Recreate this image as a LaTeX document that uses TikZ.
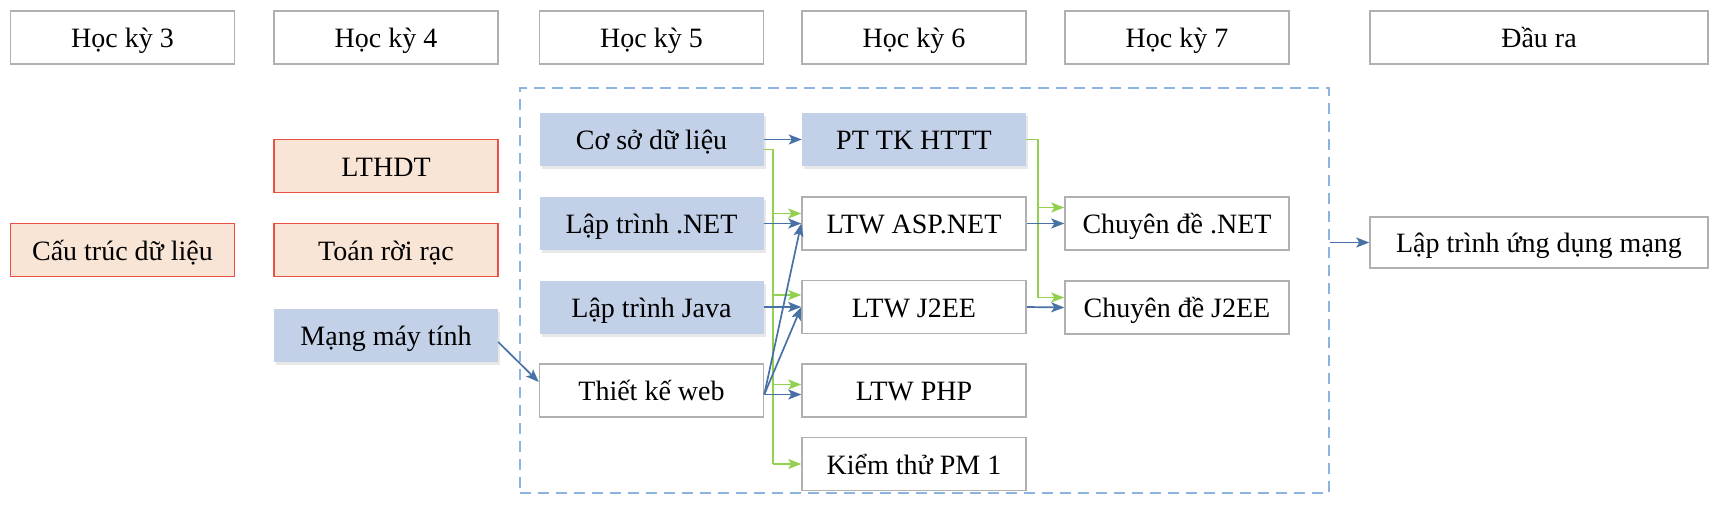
\documentclass[tikz,border=0pt]{standalone}
\usepackage{fontspec}
\setmainfont{Liberation Serif}
\usetikzlibrary{arrows.meta,shadows,calc}
\definecolor{lnblue}{RGB}{72,114,165}
\definecolor{lngreen}{RGB}{146,208,80}
\definecolor{fillblue}{RGB}{194,208,232}
\definecolor{fillpeach}{RGB}{248,229,214}
\definecolor{redline}{RGB}{234,80,70}
\definecolor{grayline}{RGB}{176,176,176}
\definecolor{dashblue}{RGB}{141,179,226}
\tikzset{
  base/.style={rectangle,inner sep=0pt,minimum width=224pt,minimum height=53pt,
    text height=26pt,text depth=6pt,
    font=\fontsize{28}{32}\selectfont,text=black},
  whitebox/.style={base,draw=grayline,line width=1.5pt,fill=white},
  peachbox/.style={base,draw=redline,line width=1.8pt,fill=fillpeach},
  bluebox/.style={base,fill=fillblue,
    drop shadow={shadow xshift=2pt,shadow yshift=-3pt,opacity=0.18,fill=black!50}},
  bluearrow/.style={draw=lnblue,line width=1.7pt,-{Stealth[length=13pt,width=10pt,inset=3pt]}},
  greenarrow/.style={draw=lngreen,line width=1.7pt,-{Stealth[length=13pt,width=10pt,inset=3pt]}},
  greenline/.style={draw=lngreen,line width=1.7pt},
  dashbox/.style={rectangle,draw=dashblue,line width=1.5pt,dash pattern=on 11pt off 7pt,
    minimum width=809pt,minimum height=405pt,inner sep=0pt}
}
\begin{document}
\begin{tikzpicture}[x=1pt,y=-1pt]
\useasboundingbox (0,0) rectangle (1724,508);
% headers
\node[whitebox] (h3) at (122.5,37.5) {Học kỳ 3};
\node[whitebox] (h4) at (386,37.5) {Học kỳ 4};
\node[whitebox] (h5) at (651.5,37.5) {Học kỳ 5};
\node[whitebox] (h6) at (914,37.5) {Học kỳ 6};
\node[whitebox] (h7) at (1177,37.5) {Học kỳ 7};
\node[whitebox,minimum width=338pt] (hout) at (1539,37.5) {Đầu ra};
% dashed frame
\node[dashbox] (frame) at (924.5,290.5) {};
% column 3 and 4
\node[peachbox] (ctdl) at (122.5,250) {Cấu trúc dữ liệu};
\node[peachbox] (lthdt) at (386,166) {LTHDT};
\node[peachbox] (trr) at (386,250) {Toán rời rạc};
\node[bluebox] (mmt) at (386,335) {Mạng máy tính};
% column 5
\node[bluebox] (csdl) at (651.5,139.5) {Cơ sở dữ liệu};
\node[bluebox] (ltnet) at (651.5,223.5) {Lập trình .NET};
\node[bluebox] (ltjava) at (651.5,307) {Lập trình Java};
\node[whitebox] (tkweb) at (651.5,390.5) {Thiết kế web};
% column 6
\node[bluebox] (pttk) at (914,139.5) {PT TK HTTT};
\node[whitebox] (asp) at (914,223.5) {LTW ASP.NET};
\node[whitebox] (j2ee) at (914,307) {LTW J2EE};
\node[whitebox] (php) at (914,390.5) {LTW PHP};
\node[whitebox] (kt) at (914,464) {Kiểm thử PM 1};
% column 7
\node[whitebox] (cdnet) at (1177,223.5) {Chuyên đề .NET};
\node[whitebox] (cdj2ee) at (1177,307.5) {Chuyên đề J2EE};
% output
\node[whitebox,minimum width=338pt,minimum height=51pt] (ludm) at (1539,242.5) {Lập trình ứng dụng mạng};

% green connectors from Co so du lieu
\draw[greenline] ([yshift=-10pt]csdl.east) -- ++(9,0) coordinate (gt) -- (gt |- kt.west);
\draw[greenarrow] (gt |- 0,213.5) -- ([yshift=10pt]asp.west);
\draw[greenarrow] (gt |- 0,295) -- ([yshift=12pt]j2ee.west);
\draw[greenarrow] (gt |- 0,384.5) -- ([yshift=6pt]php.west);
\draw[greenarrow] (gt |- kt.west) -- (kt.west);
% green connectors from PT TK HTTT
\draw[greenline] (pttk.east) -- ++(12,0) coordinate (gt2) -- (gt2 |- 0,297.5);
\draw[greenarrow] (gt2 |- 0,207.5) -- ([yshift=16pt]cdnet.west);
\draw[greenarrow] (gt2 |- 0,297.5) -- ([yshift=10pt]cdj2ee.west);

% blue connectors
\draw[bluearrow] (csdl.east) -- (pttk.west);
\draw[bluearrow] (ltnet.east) -- (asp.west);
\draw[bluearrow] (ltjava.east) -- (j2ee.west);
\draw[bluearrow] ([yshift=-4pt]tkweb.east) -- ([yshift=-4pt]php.west);
\draw[bluearrow] ([yshift=-4pt]tkweb.east) -- (asp.west);
\draw[bluearrow] ([yshift=-4pt]tkweb.east) -- (j2ee.west);
\draw[bluearrow] ([yshift=-7pt]mmt.east) -- ([yshift=8.5pt]tkweb.west);
\draw[bluearrow] (asp.east) -- (cdnet.west);
\draw[bluearrow] (j2ee.east) -- (cdj2ee.west);
\draw[bluearrow] (frame.east |- ludm.west) -- (ludm.west);
\end{tikzpicture}
\end{document}
